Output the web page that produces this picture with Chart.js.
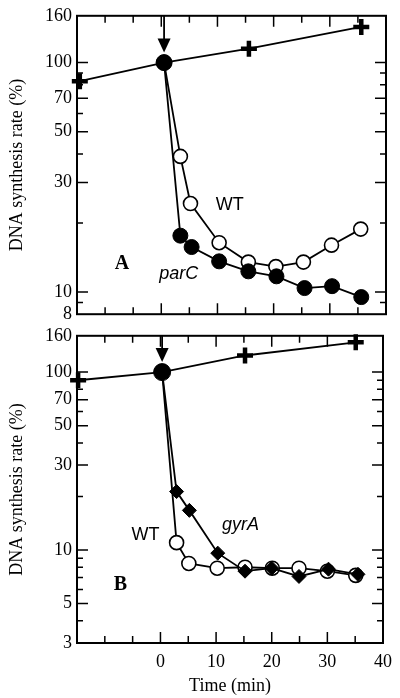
<!DOCTYPE html>
<html>
<head>
<meta charset="utf-8">
<title>DNA synthesis rate</title>
<script src="https://cdn.jsdelivr.net/npm/chart.js@4.4.1/dist/chart.umd.min.js"></script>
<style>
  body { margin: 0; background: #fff; }
  .wrap { position: relative; width: 400px; height: 698px; }
  .wrap canvas { position: absolute; left: 0; }
</style>
</head>
<body>
<div class="wrap">
  <canvas id="panelA" width="400" height="330" style="top:0"></canvas>
  <canvas id="panelB" width="400" height="378" style="top:320px"></canvas>
</div>
<script>
// x axis (min)
const xLabeled = [0, 10, 20, 30, 40];

// panel A - parC
const ctrlTimeA = [-14.5, 0.5, 15.6, 35.6];
const ctrlRateA = [83, 100, 115, 143];
const wtTimeA = [0.5, 3.4, 5.2, 10.3, 15.5, 20.4, 25.3, 30.3, 35.5];
const wtRateA = [100, 39, 24.3, 16.4, 13.5, 12.9, 13.5, 16.0, 18.8];
const parcTime = [0.5, 3.4, 5.4, 10.3, 15.5, 20.5, 25.5, 30.4, 35.6];
const parcRate = [100, 17.6, 15.7, 13.6, 12.3, 11.7, 10.4, 10.6, 9.5];
const yTicksA = [8, 9, 10, 20, 30, 40, 50, 60, 70, 80, 90, 100, 160];
const yLabelsA = [8, 10, 30, 50, 70, 100, 160];

// panel B - gyrA
const ctrlTimeB = [-14.8, 0.3, 15.2, 35.1];
const ctrlRateB = [90, 100, 124, 147];
const wtTimeB = [0.3, 2.9, 5.1, 10.2, 15.2, 20.1, 24.9, 30.0, 35.1];
const wtRateB = [100, 11.0, 8.4, 7.9, 8.0, 7.9, 7.9, 7.6, 7.2];
const gyraTime = [0.3, 2.9, 5.2, 10.3, 15.2, 20.0, 24.9, 30.2, 35.5];
const gyraRate = [100, 21.3, 16.7, 9.6, 7.6, 7.9, 7.1, 7.8, 7.3];
const yTicksB = [3, 4, 5, 6, 7, 8, 9, 10, 20, 30, 40, 50, 60, 70, 80, 90, 100, 160];
const yLabelsB = [3, 5, 10, 30, 50, 70, 100, 160];

const serif = "'Liberation Serif', 'Times New Roman', serif";
const sans = "'Liberation Sans', Arial, sans-serif";

function pts(xs, ys) {
  return xs.map((x, i) => ({ x: x, y: ys[i] }));
}

// frame, inward ticks, arrow and text labels
const decor = {
  id: 'decor',
  afterDatasetsDraw(chart, args, opts) {
    const { ctx, chartArea: a, scales: { x, y } } = chart;
    ctx.save();
    ctx.strokeStyle = '#000';
    ctx.lineWidth = 1.5;
    ctx.beginPath();
    y.ticks.forEach(t => {
      const py = y.getPixelForValue(t.value);
      if (py <= a.top + 1 || py >= a.bottom - 1) return;
      const len = opts.yLabels.includes(t.value) ? 11 : 6;
      ctx.moveTo(a.left, py); ctx.lineTo(a.left + len, py);
      ctx.moveTo(a.right, py); ctx.lineTo(a.right - len, py);
    });
    x.ticks.forEach(t => {
      const px = x.getPixelForValue(t.value);
      if (px <= a.left + 1 || px >= a.right - 1) return;
      const len = xLabeled.includes(t.value) ? 11 : 7;
      ctx.moveTo(px, a.bottom); ctx.lineTo(px, a.bottom - len);
      ctx.moveTo(px, a.top); ctx.lineTo(px, a.top + len);
    });
    ctx.stroke();
    ctx.lineWidth = 2;
    ctx.strokeRect(a.left, a.top, a.right - a.left, a.bottom - a.top);

    // arrow at drug addition
    const ax = x.getPixelForValue(opts.arrowAt);
    const tip = y.getPixelForValue(100) - opts.arrowGap;
    ctx.lineWidth = 1.8;
    ctx.beginPath();
    ctx.moveTo(ax, a.top); ctx.lineTo(ax, tip - 12);
    ctx.stroke();
    ctx.fillStyle = '#000';
    ctx.beginPath();
    ctx.moveTo(ax - 6.5, tip - 14); ctx.lineTo(ax + 6.5, tip - 14); ctx.lineTo(ax, tip);
    ctx.closePath();
    ctx.fill();

    ctx.textAlign = 'center';
    ctx.textBaseline = 'middle';
    opts.texts.forEach(s => {
      ctx.font = s.font;
      ctx.fillText(s.text, x.getPixelForValue(s.x), y.getPixelForValue(s.y));
    });
    ctx.restore();
  }
};

function makePanel(id, cfg) {
  return new Chart(document.getElementById(id), {
    type: 'line',
    data: { datasets: cfg.datasets },
    options: {
      responsive: false,
      animation: false,
      devicePixelRatio: 1,
      layout: { padding: { top: cfg.top, right: cfg.right, left: 0, bottom: 0 } },
      plugins: {
        legend: { display: false },
        tooltip: { enabled: false },
        decor: cfg.decor
      },
      scales: {
        x: {
          type: 'linear', min: -15, max: 40,
          grid: { display: false, drawTicks: false },
          border: { display: false },
          ticks: {
            display: cfg.showX, stepSize: 5, autoSkip: false, maxRotation: 0, padding: 8,
            color: '#000', font: { family: serif, size: 18 },
            callback: v => xLabeled.includes(v) ? String(v) : ''
          },
          title: {
            display: cfg.showX, text: 'Time (min)', color: '#000',
            font: { family: serif, size: 18 }, padding: 1
          },
          afterFit: s => { s.height = cfg.xHeight; }
        },
        y: {
          type: 'logarithmic', min: cfg.yMin, max: 160,
          grid: { display: false, drawTicks: false },
          border: { display: false },
          afterBuildTicks: s => { s.ticks = cfg.yTicks.map(v => ({ value: v })); },
          ticks: {
            autoSkip: false, padding: 5, color: '#000',
            font: { family: serif, size: 18 },
            callback: v => cfg.yLabels.includes(v) ? String(v) : ''
          },
          title: {
            display: true, text: 'DNA synthesis rate (%)', color: '#000',
            font: { family: serif, size: 18 }, padding: 6
          },
          afterFit: s => { s.width = 77; }
        }
      }
    },
    plugins: [decor]
  });
}

const lineW = 1.8;

makePanel('panelA', {
  top: 13, right: 14, xHeight: 11, showX: false, yMin: 8,
  yTicks: yTicksA, yLabels: yLabelsA,
  decor: {
    yLabels: yLabelsA, arrowAt: 0.5, arrowGap: 10,
    texts: [
      { text: 'WT', x: 12.2, y: 24, font: '18px ' + sans },
      { text: 'parC', x: 3.1, y: 12, font: 'italic 18px ' + sans },
      { text: 'A', x: -7, y: 13.3, font: 'bold 20px ' + serif }
    ]
  },
  datasets: [
    {
      data: pts(ctrlTimeA, ctrlRateA), borderColor: '#000', borderWidth: lineW,
      pointStyle: ['cross', 'circle', 'cross', 'cross'],
      pointRadius: [8, 8, 8, 8], pointBorderWidth: [4.5, 1, 4.5, 4.5],
      pointBackgroundColor: '#000', pointBorderColor: '#000', clip: false
    },
    {
      data: pts(parcTime, parcRate), borderColor: '#000', borderWidth: lineW,
      pointStyle: 'circle', pointRadius: 7.5, pointBorderWidth: 1,
      pointBackgroundColor: '#000', pointBorderColor: '#000', clip: false
    },
    {
      data: pts(wtTimeA, wtRateA), borderColor: '#000', borderWidth: lineW,
      pointStyle: 'circle', pointRadius: wtTimeA.map((t, i) => i === 0 ? 0 : 7),
      pointBorderWidth: 1.6, pointBackgroundColor: '#fff', pointBorderColor: '#000', clip: false
    }
  ]
});

makePanel('panelB', {
  top: 12, right: 15, xHeight: 55, showX: true, yMin: 3,
  yTicks: yTicksB, yLabels: yLabelsB,
  decor: {
    yLabels: yLabelsB, arrowAt: 0.3, arrowGap: 10,
    texts: [
      { text: 'WT', x: -2.7, y: 12.2, font: '18px ' + sans },
      { text: 'gyrA', x: 14.4, y: 13.9, font: 'italic 18px ' + sans },
      { text: 'B', x: -7.2, y: 6.4, font: 'bold 20px ' + serif }
    ]
  },
  datasets: [
    {
      data: pts(ctrlTimeB, ctrlRateB), borderColor: '#000', borderWidth: lineW,
      pointStyle: ['cross', 'circle', 'cross', 'cross'],
      pointRadius: [8, 8.5, 8, 8], pointBorderWidth: [4.5, 1, 4.5, 4.5],
      pointBackgroundColor: '#000', pointBorderColor: '#000', clip: false
    },
    {
      data: pts(gyraTime, gyraRate), borderColor: '#000', borderWidth: lineW,
      pointStyle: 'rectRot', pointRadius: gyraTime.map((t, i) => i === 0 ? 0 : 7),
      pointBorderWidth: 1, pointBackgroundColor: '#000', pointBorderColor: '#000', clip: false
    },
    {
      data: pts(wtTimeB, wtRateB), borderColor: '#000', borderWidth: lineW,
      pointStyle: 'circle', pointRadius: wtTimeB.map((t, i) => i === 0 ? 0 : 7),
      pointBorderWidth: 1.6, pointBackgroundColor: '#fff', pointBorderColor: '#000', clip: false
    }
  ]
});
</script>
</body>
</html>
